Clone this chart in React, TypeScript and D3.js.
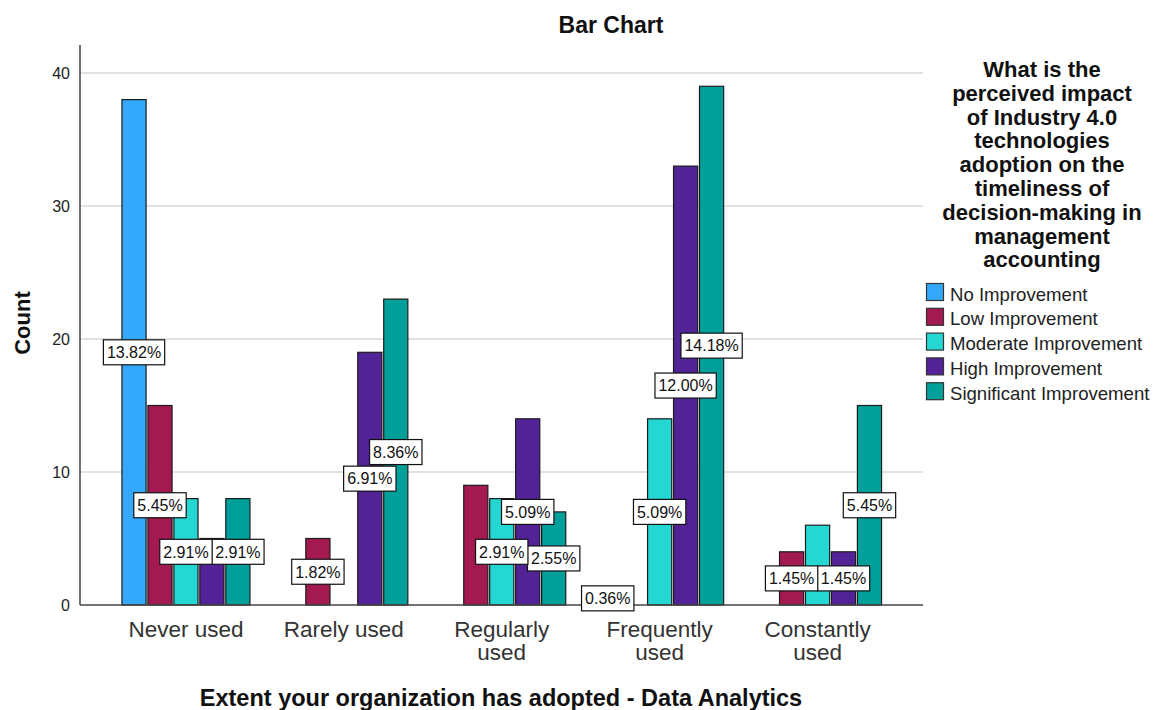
import React, { useEffect, useRef } from "react";
import * as d3 from "d3";

// Categories of the x axis (with their wrapped label lines)
const categories = ["Never used", "Rarely used", "Regularly used", "Frequently used", "Constantly used"];
const categoryLines = [["Never used"], ["Rarely used"], ["Regularly", "used"], ["Frequently", "used"], ["Constantly", "used"]];

// Response groups (legend order)
const seriesNames = [
  "No Improvement",
  "Low Improvement",
  "Moderate Improvement",
  "High Improvement",
  "Significant Improvement",
];
const seriesColors = ["#33a8fd", "#a21a4f", "#24d7d2", "#522297", "#00a09a"];

// Counts per category, one array per response group
const noImprovement = [38, 0, 0, 1, 0];
const lowImprovement = [15, 5, 9, 0, 4];
const moderateImprovement = [8, 0, 8, 14, 6];
const highImprovement = [5, 19, 14, 33, 4];
const significantImprovement = [8, 23, 7, 39, 15];

const yTicks = [0, 10, 20, 30, 40];

const legendTitleLines = [
  "What is the",
  "perceived impact",
  "of Industry 4.0",
  "technologies",
  "adoption on the",
  "timeliness of",
  "decision-making in",
  "management",
  "accounting",
];

const FONT = "'Liberation Sans', Arial, sans-serif";

export default function App() {
  const ref = useRef<SVGSVGElement | null>(null);

  useEffect(() => {
    const svg = d3.select(ref.current);
    svg.selectAll("*").remove();

    const seriesValues = [noImprovement, lowImprovement, moderateImprovement, highImprovement, significantImprovement];
    const total = d3.sum(seriesValues.map((s) => d3.sum(s)));

    const plotLeft = 80;
    const plotRight = 923;
    const plotTop = 45;
    const baseY = 605;

    const x0 = d3.scaleBand<string>().domain(categories).range([107, 896.5]);
    const x1 = d3.scaleBand<string>().domain(seriesNames).range([-64, 64]).paddingInner(0.07);
    const y = d3.scaleLinear().domain([0, 40]).range([baseY, 73]);

    const center = (c: string) => (x0(c) as number) + x0.bandwidth() / 2;

    svg.append("rect").attr("width", 1154).attr("height", 710).attr("fill", "#ffffff");

    // Title
    svg
      .append("text")
      .attr("x", 611)
      .attr("y", 33)
      .attr("text-anchor", "middle")
      .attr("font-family", FONT)
      .attr("font-weight", "bold")
      .attr("font-size", 23)
      .attr("fill", "#111")
      .text("Bar Chart");

    // Gridlines
    svg
      .append("g")
      .selectAll("line")
      .data(yTicks.filter((t) => t > 0))
      .join("line")
      .attr("x1", plotLeft)
      .attr("x2", plotRight)
      .attr("y1", (d) => y(d))
      .attr("y2", (d) => y(d))
      .attr("stroke", "#c4c4c4")
      .attr("stroke-width", 1.2);

    // Y tick labels
    svg
      .append("g")
      .selectAll("text")
      .data(yTicks)
      .join("text")
      .attr("x", 70)
      .attr("y", (d) => y(d))
      .attr("dy", "0.36em")
      .attr("text-anchor", "end")
      .attr("font-family", FONT)
      .attr("font-size", 16)
      .attr("fill", "#222")
      .text((d) => d);

    // Bars
    const bars = svg.append("g");
    seriesNames.forEach((name, si) => {
      bars
        .selectAll(`rect.s${si}`)
        .data(categories.map((c, ci) => ({ c, v: seriesValues[si][ci] })).filter((d) => d.v > 0))
        .join("rect")
        .attr("class", `s${si}`)
        .attr("x", (d) => center(d.c) + (x1(name) as number))
        .attr("y", (d) => y(d.v))
        .attr("width", x1.bandwidth())
        .attr("height", (d) => baseY - y(d.v))
        .attr("fill", seriesColors[si])
        .attr("stroke", "#1c1c1c")
        .attr("stroke-width", 1.2);
    });

    // Axes lines
    svg
      .append("line")
      .attr("x1", plotLeft)
      .attr("x2", plotLeft)
      .attr("y1", plotTop)
      .attr("y2", baseY)
      .attr("stroke", "#444")
      .attr("stroke-width", 1.5);
    svg
      .append("line")
      .attr("x1", plotLeft)
      .attr("x2", plotRight)
      .attr("y1", baseY)
      .attr("y2", baseY)
      .attr("stroke", "#444")
      .attr("stroke-width", 1.5);

    // Percentage labels, placed from the last group backwards; a label that
    // collides with one already placed is left out.
    const placed: { x0: number; x1: number; y0: number; y1: number }[] = [];
    const labels = svg.append("g");
    const boxH = 25;
    for (let si = seriesNames.length - 1; si >= 0; si--) {
      categories.forEach((c, ci) => {
        const v = seriesValues[si][ci];
        if (v <= 0) return;
        const cx = center(c) + (x1(seriesNames[si]) as number) + x1.bandwidth() / 2;
        const cy = (y(v) + baseY) / 2;
        const txt = ((v / total) * 100).toFixed(2) + "%";
        const g = labels.append("g");
        const rect = g.append("rect");
        const t = g
          .append("text")
          .attr("x", cx)
          .attr("y", cy)
          .attr("dy", "0.36em")
          .attr("text-anchor", "middle")
          .attr("font-family", FONT)
          .attr("font-size", 16)
          .attr("fill", "#111")
          .text(txt);
        const tw = (t.node() as SVGTextElement).getComputedTextLength();
        const w = tw + 7;
        const box = { x0: cx - w / 2, x1: cx + w / 2, y0: cy - boxH / 2, y1: cy + boxH / 2 };
        const hit = placed.some(
          (p) =>
            Math.min(p.x1, box.x1) - Math.max(p.x0, box.x0) > 2 &&
            Math.min(p.y1, box.y1) - Math.max(p.y0, box.y0) > 2
        );
        if (hit) {
          g.remove();
          return;
        }
        placed.push(box);
        rect
          .attr("x", box.x0)
          .attr("y", box.y0)
          .attr("width", w)
          .attr("height", boxH)
          .attr("fill", "#ffffff")
          .attr("stroke", "#111")
          .attr("stroke-width", 1.2);
      });
    }

    // Category labels
    const cat = svg.append("g");
    categories.forEach((c, ci) => {
      categoryLines[ci].forEach((line, li) => {
        cat
          .append("text")
          .attr("x", center(c))
          .attr("y", 637 + li * 23)
          .attr("text-anchor", "middle")
          .attr("font-family", FONT)
          .attr("font-size", 22.5)
          .attr("fill", "#333")
          .text(line);
      });
    });

    // Axis titles
    svg
      .append("text")
      .attr("x", 501)
      .attr("y", 706)
      .attr("text-anchor", "middle")
      .attr("font-family", FONT)
      .attr("font-weight", "bold")
      .attr("font-size", 23.5)
      .attr("fill", "#111")
      .text("Extent your organization has adopted - Data Analytics");
    svg
      .append("text")
      .attr("transform", "translate(30,323) rotate(-90)")
      .attr("text-anchor", "middle")
      .attr("font-family", FONT)
      .attr("font-weight", "bold")
      .attr("font-size", 22)
      .attr("fill", "#111")
      .text("Count");

    // Legend
    const lg = svg.append("g");
    legendTitleLines.forEach((line, i) => {
      lg.append("text")
        .attr("x", 1042)
        .attr("y", 77 + i * 23.8)
        .attr("text-anchor", "middle")
        .attr("font-family", FONT)
        .attr("font-weight", "bold")
        .attr("font-size", 22)
        .attr("fill", "#111")
        .text(line);
    });
    seriesNames.forEach((name, i) => {
      const top = 283.5 + i * 24.8;
      lg.append("rect")
        .attr("x", 926.5)
        .attr("y", top)
        .attr("width", 17)
        .attr("height", 17)
        .attr("fill", seriesColors[i])
        .attr("stroke", "#333")
        .attr("stroke-width", 1.2);
      lg.append("text")
        .attr("x", 950)
        .attr("y", top + 17)
        .attr("font-family", FONT)
        .attr("font-size", 18.6)
        .attr("fill", "#222")
        .text(name);
    });
  }, []);

  return (
    <svg
      ref={ref}
      width={1154}
      height={710}
      style={{ position: "absolute", left: 0, top: 0, display: "block" }}
    />
  );
}
